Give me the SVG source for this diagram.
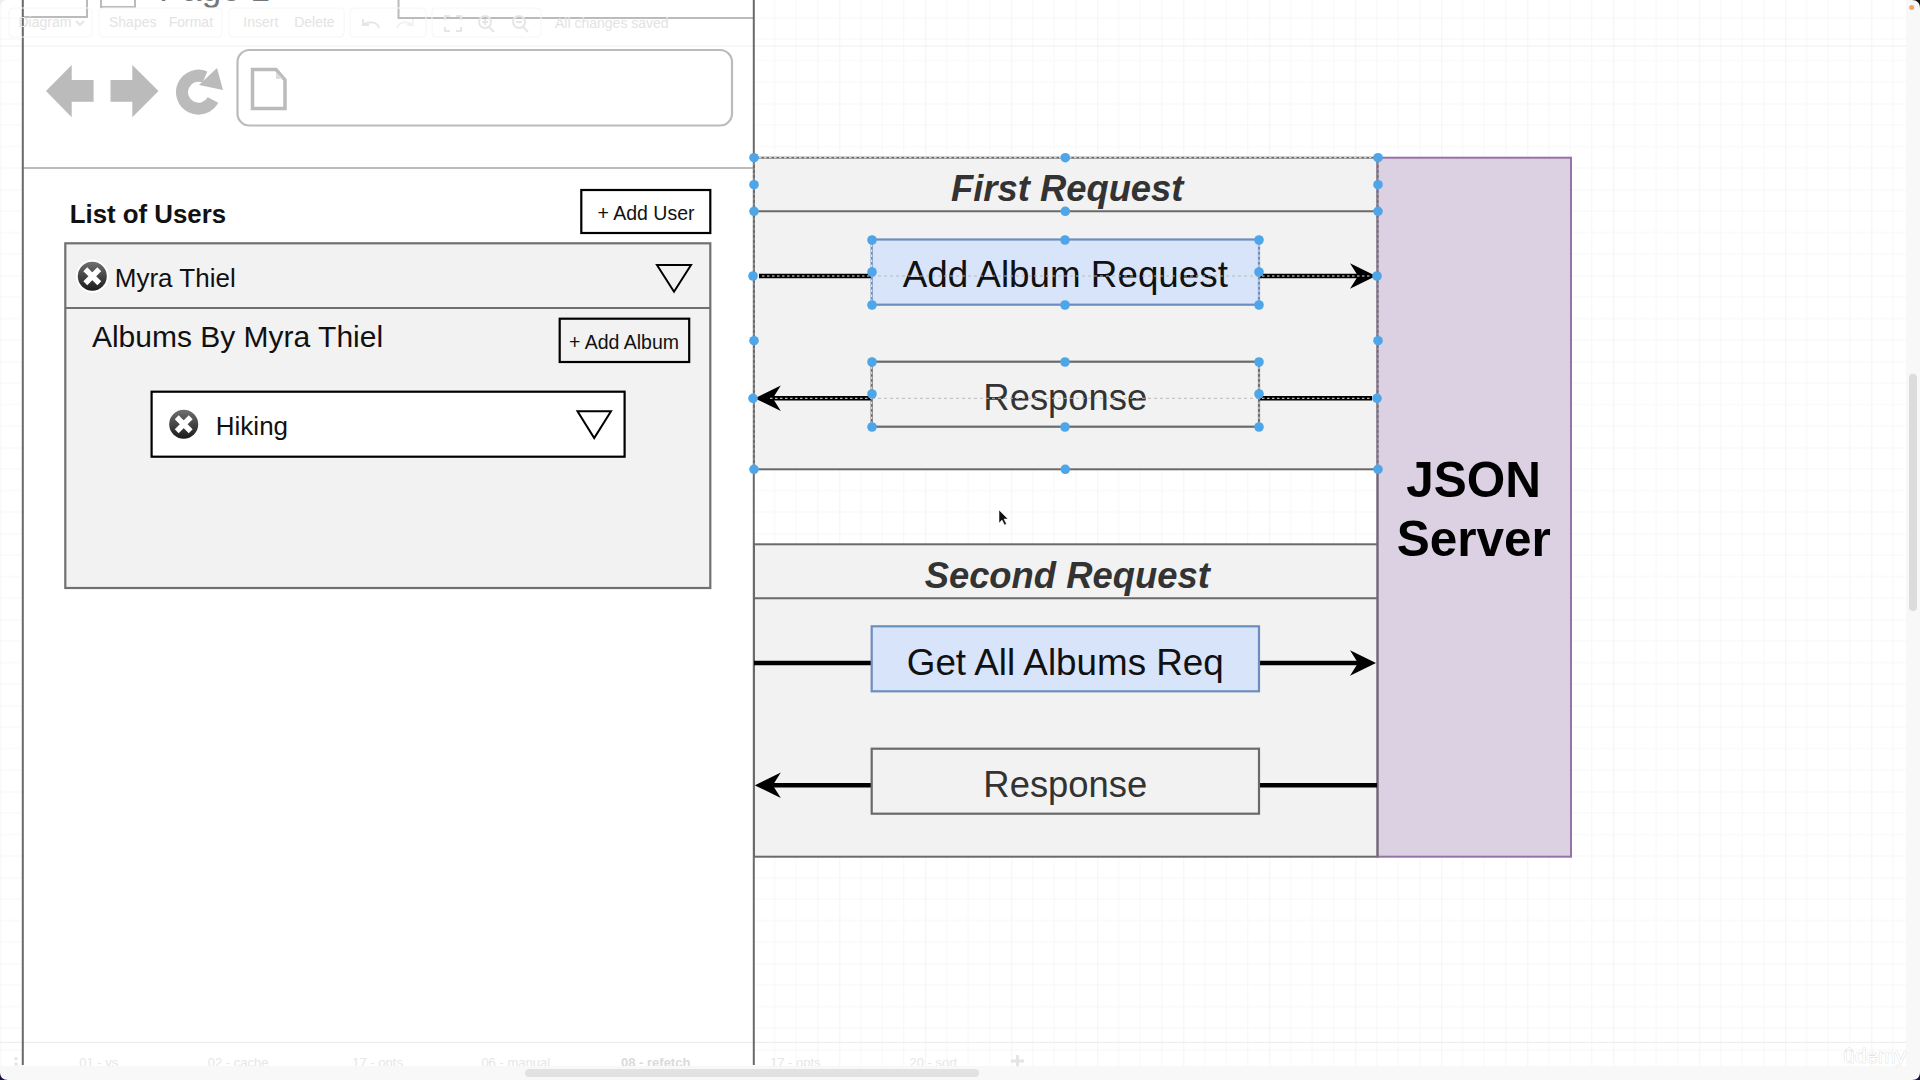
<svg xmlns="http://www.w3.org/2000/svg" width="1920" height="1080" viewBox="0 0 1920 1080">
<style>
text{font-family:"Liberation Sans",Arial,sans-serif}
.ghost{font-size:14px;fill:#e3e3e3}
.tab{font-size:13px;fill:#e6e6e6}
.tb{fill:none;stroke:#f6f6f6;stroke-width:1}
.ti{fill:none;stroke:#e6e6e6;stroke-width:2}
.wire{stroke:#6a6a6a;stroke-width:2;fill:none}
.lt{stroke:#bbb;fill:none;stroke-width:2}
.ico{fill:#bbb}
.panel{fill:#f2f2f2;stroke:#707070;stroke-width:2.2}
.btn{fill:none;stroke:#000;stroke-width:2.2}
.btnt{font-size:19.5px;fill:#111}
.name{font-size:26px;fill:#111}
.tri{fill:none;stroke:#000;stroke-width:2}
.lane{fill:#f2f2f2;stroke:#6a6a6a;stroke-width:2}
.div{stroke:#6a6a6a;stroke-width:2;fill:none}
.title{font-size:36.4px;font-weight:bold;font-style:italic;fill:#333;text-anchor:middle}
.req{fill:#d8e4f9;stroke:#6c8ebf;stroke-width:2.2}
.resp{fill:#f2f2f2;stroke:#6a6a6a;stroke-width:2.2}
.bt{font-size:36.8px;fill:#111;text-anchor:middle}
.rt{font-size:36.4px;fill:#333;text-anchor:middle}
.conn{stroke:#000;stroke-width:4.5;fill:none}
.sel{stroke:#fff;stroke-width:.9;stroke-dasharray:2.5 2.5;fill:none}
.guide{stroke:#bbb;stroke-width:1;stroke-dasharray:3 3;fill:none}
.h{fill:#4ea5e8}
.x{stroke:#fff;stroke-width:5.5}
</style>
<defs>
<pattern id="grid" patternUnits="userSpaceOnUse" x="65.3" y="17.5" width="86" height="86">
<path d="M21.5 0V86M43 0V86M64.5 0V86M0 21.5H86M0 43H86M0 64.5H86" stroke="#f7f7f7" stroke-width="1" fill="none"/>
<path d="M0 0V86M0 0H86" stroke="#ededed" stroke-width="1.2" fill="none"/>
</pattern>
<marker id="head" markerUnits="userSpaceOnUse" markerWidth="26" markerHeight="26" viewBox="0 0 26 26" refX="8" refY="13" orient="auto">
<path d="M0 .3L26 13L0 25.7L8 13Z" fill="#000"/>
</marker>
<linearGradient id="dark" x1="0" y1="0" x2="0" y2="1">
<stop offset="0" stop-color="#707070"/>
<stop offset="1" stop-color="#1a1a1a"/>
</linearGradient>
</defs>

<rect width="1920" height="1080" fill="#fff"/>
<rect id="canvas-grid" width="1920" height="1080" fill="url(#grid)"/>
<rect x="23" y="0" width="731" height="1066" fill="#fff"/>
<path d="M0 46H1906M0 1042.300H1906" stroke="#efefef" stroke-width="1.200" fill="none"/>

<g id="wireframe-frame">
<path class="lt" d="M23 17H87V0M398.500 0V18H754"/>
<path class="lt" d="M101 0V7H135V0"/>
<text x="159" y="1" font-size="35" fill="#777">Page 1</text>
<path class="lt" d="M23 168H754"/>
<path class="wire" d="M22.800 0V1065M753.800 0V1065"/>
</g>

<g id="toolbar">
<rect class="tb" x="9" y="8" width="83" height="29" rx="4"/>
<rect class="tb" x="99" y="8" width="123" height="29" rx="4"/>
<rect class="tb" x="229" y="8" width="115" height="29" rx="4"/>
<rect class="tb" x="350" y="8" width="76" height="29" rx="4"/>
<rect class="tb" x="432" y="8" width="109" height="29" rx="4"/>
<text class="ghost" x="18.500" y="27">Diagram</text>
<path class="ti" d="M76 21l4 4l4-4" stroke-width="1"/>
<text class="ghost" x="109" y="27">Shapes</text>
<text class="ghost" x="168.700" y="27">Format</text>
<text class="ghost" x="243.300" y="27">Insert</text>
<text class="ghost" x="294.200" y="27">Delete</text>
<path class="ti" d="M379 28C377 22 371 21 364 24M363 19V25H369"/>
<path d="M397 28C399 22 405 21 412 24M413 19V25H407" fill="none" stroke="#f2f2f2" stroke-width="2"/>
<path class="ti" d="M445 20V16H450M456 16H461V20M461 27V31H456M450 31H445V27"/>
<circle class="ti" cx="485" cy="22" r="6"/><path class="ti" d="M489 27l5 5M482 22h6M485 19v6"/>
<circle class="ti" cx="519" cy="22" r="6"/><path class="ti" d="M523 27l5 5M516 22h6"/>
<text class="ghost" x="555" y="28">All changes saved</text>
</g>

<g id="browser-bar">
<path class="ico" d="M46 91L71.700 65V80H93.600V101.700H71.700V117.300Z"/>
<path class="ico" d="M158.500 91L132.300 65V80H110.500V101.700H132.300V117.300Z"/>
<path d="M205 77A16.500 16.500 0 1 0 213 100" fill="none" stroke="#bbb" stroke-width="12"/>
<path class="ico" d="M217 68L223 90L199 85Z"/>
<rect x="237.500" y="50" width="494.500" height="75.500" rx="12" fill="#fff" stroke="#bbb" stroke-width="2.200"/>
<path d="M252.500 69.500H276L285 80V108.500H252.500Z" fill="#fff" stroke="#bbb" stroke-width="3.500"/>
<path d="M276 72V79H283Z" fill="#ddd"/>
</g>

<g id="list-of-users">
<text x="69.800" y="223.200" font-size="25.800" font-weight="bold" fill="#111">List of Users</text>
<g id="add-user"><rect class="btn" x="581.300" y="190" width="129" height="43"/><text class="btnt" x="597.500" y="220">+ Add User</text></g>
<g id="user-panel">
<rect class="panel" x="65.300" y="243.300" width="645" height="344.700"/>
<path d="M65.300 308H710.300" stroke="#707070" stroke-width="2.200"/>
<circle cx="92.300" cy="276.300" r="16.500" fill="#fff"/>
<circle cx="92.300" cy="276.300" r="14.500" fill="url(#dark)"/>
<path class="x" d="M85.300 269.300L99.300 283.300M99.300 269.300L85.300 283.300"/>
<text class="name" x="114.800" y="286.700">Myra Thiel</text>
<path class="tri" d="M657 265H691L674 291.700Z"/>
<text x="91.900" y="347.200" font-size="30" fill="#111">Albums By Myra Thiel</text>
</g>
<g id="add-album"><rect class="btn" x="559.700" y="318.700" width="129.500" height="43.300"/><text class="btnt" x="569" y="349.300">+ Add Album</text></g>
<g id="album-hiking">
<rect x="151.600" y="391.700" width="473" height="65" fill="#fff" stroke="#000" stroke-width="2.200"/>
<circle cx="183.700" cy="424.300" r="14.500" fill="url(#dark)"/>
<path class="x" d="M176.700 417.300L190.700 431.300M190.700 417.300L176.700 431.300"/>
<text class="name" x="215.800" y="435">Hiking</text>
<path class="tri" d="M577.500 411.300H611L594.200 438Z"/>
</g>
</g>

<g id="first-request">
<rect class="lane" x="754" y="157.700" width="624" height="311.600"/>
<path class="div" d="M754 211.300H1378"/>
<text class="title" x="1067.200" y="200.700">First Request</text>
</g>
<g id="second-request">
<rect class="lane" x="754" y="544.300" width="624" height="312.400"/>
<path class="div" d="M754 598.300H1378"/>
<text class="title" x="1067.200" y="587.700">Second Request</text>
</g>
<g id="json-server">
<rect x="1377.500" y="157.700" width="193.500" height="699" fill="#dcd0e3" stroke="#9673a6" stroke-width="2"/>
<path d="M1377.500 157.700V856.700" stroke="#6a6a6a" stroke-width="2"/>
<text x="1473.700" y="496.800" font-size="49.500" font-weight="bold" fill="#000" text-anchor="middle">JSON</text>
<text x="1473.700" y="555.800" font-size="49.500" font-weight="bold" fill="#000" text-anchor="middle">Server</text>
</g>

<g id="connectors">
<path class="conn" d="M759 276H872"/>
<path class="conn" d="M1259 276H1358" marker-end="url(#head)"/>
<path class="conn" d="M872 398.300H772.800" marker-end="url(#head)"/>
<path class="conn" d="M1372 398.300H1259"/>
<path class="conn" d="M754 663H872"/>
<path class="conn" d="M1259 663H1358" marker-end="url(#head)"/>
<path class="conn" d="M872 785.300H772.800" marker-end="url(#head)"/>
<path class="conn" d="M1377 785.300H1259"/>
</g>

<g id="add-album-request"><rect class="req" x="871.700" y="239.500" width="387.300" height="65.200"/><text class="bt" x="1065.300" y="287.200">Add Album Request</text></g>
<g id="response-1"><rect class="resp" x="871.700" y="361.700" width="387.300" height="65"/><text class="rt" x="1065.300" y="409.600">Response</text></g>
<g id="get-all-albums-req"><rect class="req" x="871.700" y="626.300" width="387.300" height="65"/><text class="bt" x="1065.300" y="674.500">Get All Albums Req</text></g>
<g id="response-2"><rect class="resp" x="871.700" y="748.700" width="387.300" height="65"/><text class="rt" x="1065.300" y="796.600">Response</text></g>

<g id="selection-overlay">
<path class="sel" d="M754 157.700H1378M871.700 239.500V304.700M1259 239.500V304.700M871.700 361.700V426.700M1259 361.700V426.700"/>
<path class="sel" d="M754 157.700V469.300M1378 157.700V469.300" opacity=".5"/>
<path class="sel" d="M762 276H872M1262 276H1371M770 398.300H872M1262 398.300H1372"/>
<path class="guide" d="M872 276H1259M872 398.300H1259"/>
<g class="h">
<circle cx="754" cy="157.700" r="4.800"/><circle cx="1065.300" cy="157.700" r="4.800"/><circle cx="1378" cy="157.700" r="4.800"/>
<circle cx="754" cy="184.700" r="4.800"/><circle cx="1378" cy="184.700" r="4.800"/>
<circle cx="754" cy="211.300" r="4.800"/><circle cx="1065.300" cy="211.300" r="4.800"/><circle cx="1378" cy="211.300" r="4.800"/>
<circle cx="753" cy="276" r="4.800"/><circle cx="1377" cy="276" r="4.800"/>
<circle cx="754" cy="340.700" r="4.800"/><circle cx="1378" cy="340.700" r="4.800"/>
<circle cx="753" cy="398.300" r="4.800"/><circle cx="1377" cy="398.300" r="4.800"/>
<circle cx="754" cy="469.300" r="4.800"/><circle cx="1065.300" cy="469.300" r="4.800"/><circle cx="1378" cy="469.300" r="4.800"/>
<circle cx="872" cy="240" r="4.800"/><circle cx="1065" cy="240" r="4.800"/><circle cx="1259" cy="240" r="4.800"/>
<circle cx="872" cy="272" r="4.800"/><circle cx="1259" cy="272" r="4.800"/>
<circle cx="872" cy="305" r="4.800"/><circle cx="1065" cy="305" r="4.800"/><circle cx="1259" cy="305" r="4.800"/>
<circle cx="872" cy="362" r="4.800"/><circle cx="1065" cy="362" r="4.800"/><circle cx="1259" cy="362" r="4.800"/>
<circle cx="872" cy="394" r="4.800"/><circle cx="1259" cy="394" r="4.800"/>
<circle cx="872" cy="427" r="4.800"/><circle cx="1065" cy="427" r="4.800"/><circle cx="1259" cy="427" r="4.800"/>
</g>
</g>

<path id="cursor" d="M999 510V523L1002 520L1004.500 525L1006.500 524L1004 519H1008Z" fill="#111" stroke="#fff" stroke-width=".5"/>

<g id="bottom-bar">
<text class="tab" x="79.300" y="1067">01 - vs</text>
<text class="tab" x="207.700" y="1067">02 - cache</text>
<text class="tab" x="352.300" y="1067">17 - opts</text>
<text class="tab" x="481.400" y="1067">06 - manual</text>
<text class="tab" x="621" y="1067" font-weight="bold" style="fill:#dadada">08 - refetch</text>
<text class="tab" x="770" y="1067">17 - opts</text>
<text class="tab" x="909.500" y="1067">20 - sort</text>
<path d="M1017.500 1055V1067M1011 1061H1024" stroke="#e4e4e4" stroke-width="3"/>
<path d="M16 1057V1069" stroke="#e4e4e4" stroke-width="3" stroke-dasharray="3 2.500"/>
<rect x="0" y="1066" width="1920" height="14" fill="#f8f8f8"/>
<rect x="525" y="1069" width="454" height="8" rx="4" fill="#e2e2e2"/>
</g>

<g id="right-scrollbar">
<rect x="1906" y="0" width="14" height="1080" fill="#f8f8f8"/>
<rect x="1909" y="373.700" width="8" height="237.300" rx="4" fill="#dcdcdc"/>
<circle cx="1911.700" cy="7.500" r="2.500" fill="#f0a860"/>
</g>

<text id="udemy" x="1843" y="1063" font-size="21" fill="#fff" stroke="#ccc" stroke-width=".6" paint-order="stroke">ûdemy</text>

<g id="screen-corners" fill="#1b1040">
<path d="M0 1072V1080H8C3 1080 0 1077 0 1072Z"/>
<path d="M1920 1072V1080H1912C1917 1080 1920 1077 1920 1072Z"/>
<path d="M1912 0H1920V8C1920 3 1917 0 1912 0Z" fill="#111"/>
<path d="M0 0H8C3 0 0 3 0 8Z" fill="#eee"/>
</g>
</svg>
